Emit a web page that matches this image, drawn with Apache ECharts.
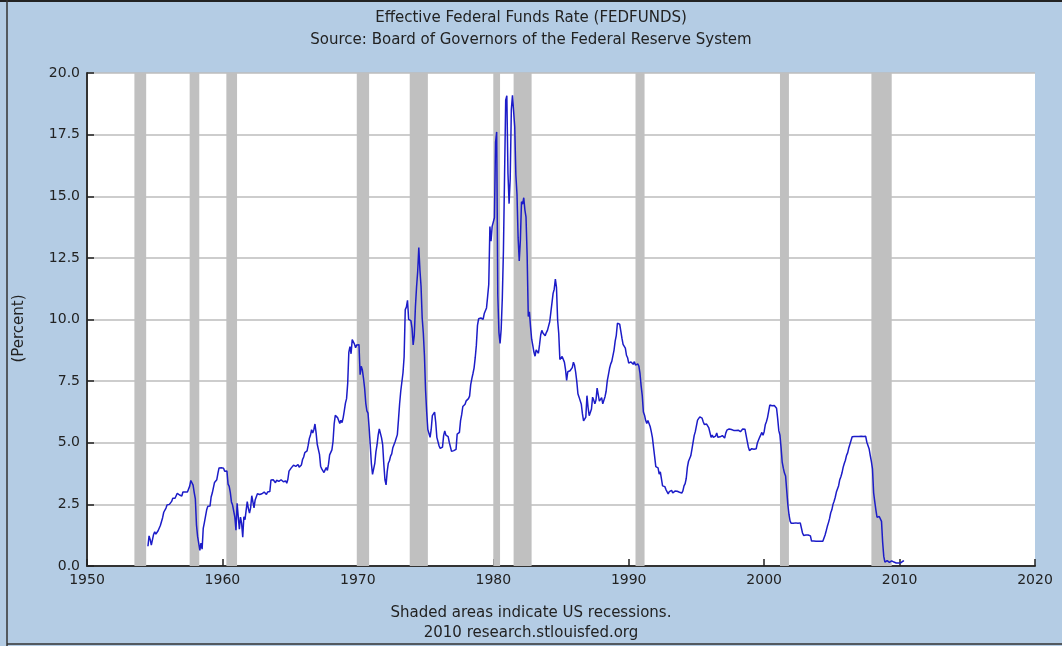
<!DOCTYPE html>
<html>
<head>
<meta charset="utf-8">
<script src="https://cdn.jsdelivr.net/npm/echarts@6/dist/echarts.min.js"></script>
<style>
html,body{margin:0;padding:0;background:#b4cce4;}
#chart{width:1062px;height:646px;}
</style>
</head>
<body>
<div id="chart"></div>
<script>
// Monthly effective federal funds rate (percent)
var rates1954 = [0.80,1.22,1.07,0.85,0.83,1.28]; // Jul-Dec 1954
var rates1955_1959 = [
1.39,1.29,1.35,1.43,1.43,1.64,1.68,1.96,2.18,2.24,2.35,2.48,
2.45,2.50,2.50,2.62,2.75,2.71,2.75,2.73,2.95,2.96,2.88,2.94,
2.84,3.00,2.96,3.00,3.00,3.00,2.99,3.24,3.47,3.50,3.28,2.98,
2.72,1.67,1.20,1.26,0.63,0.93,0.68,1.53,1.76,1.80,2.27,2.42,
2.48,2.43,2.80,2.96,2.90,3.39,3.47,3.50,3.76,3.98,4.00,3.99];
var rates1960s = [
3.99,3.97,3.84,3.92,3.85,3.32,3.23,2.98,2.60,2.47,2.44,1.98,
1.45,2.54,2.02,1.49,1.98,1.73,1.17,2.00,1.88,2.26,2.61,2.33,
2.15,2.37,2.85,2.78,2.36,2.68,2.71,2.93,2.90,2.90,2.94,2.93,
2.92,3.00,2.98,2.90,3.00,2.99,3.02,3.49,3.48,3.50,3.48,3.38,
3.48,3.48,3.43,3.47,3.50,3.50,3.42,3.50,3.45,3.36,3.52,3.85,
3.90,3.98,4.04,4.09,4.10,4.04,4.09,4.12,4.01,4.08,4.10,4.32,
4.42,4.60,4.65,4.67,4.90,5.17,5.30,5.53,5.40,5.53,5.76,5.40,
4.94,5.00,4.53,4.05,3.94,3.98,3.79,3.90,3.99,3.88,4.13,4.51,
4.61,4.71,5.05,5.76,6.11,6.07,6.02,6.03,5.78,5.91,5.82,6.02,
6.30,6.61,6.79,7.41,8.67,8.90,8.61,9.19,9.15,9.00,8.85,8.97];
var rates1970s = [
8.98,8.98,7.76,8.10,7.95,7.61,7.21,6.61,6.29,6.20,5.60,4.90,
4.14,3.72,3.71,4.16,4.63,4.91,5.31,5.56,5.55,5.20,4.91,4.14,
3.50,3.29,3.83,4.17,4.27,4.46,4.55,4.80,4.87,5.04,5.06,5.33,
5.94,6.58,7.09,7.12,7.84,8.49,10.40,10.50,10.78,10.01,10.03,9.95,
9.65,8.97,9.35,10.51,11.31,11.93,12.92,12.01,11.34,10.06,9.45,8.53,
7.13,6.24,5.54,5.49,5.22,5.55,6.10,6.14,6.24,5.82,5.22,5.20,
4.87,4.77,4.84,4.82,5.29,5.48,5.31,5.29,5.25,5.02,4.95,4.65,
4.61,4.68,4.69,4.73,5.35,5.39,5.42,5.90,6.14,6.47,6.51,6.56,
6.70,6.78,6.79,6.89,7.36,7.60,7.81,8.04,8.45,8.96,9.76,10.03,
10.07,10.06,10.09,10.01,10.24,10.29,10.47,10.94,11.43,13.77,13.18,13.78];
var rates1980s = [
13.82,14.13,17.19,17.61,10.98,9.47,9.03,9.61,10.87,12.81,15.85,18.90,
19.08,15.93,14.70,15.72,18.52,19.10,19.04,17.82,15.87,15.08,13.31,12.37,
13.22,14.78,14.68,14.94,14.45,14.15,12.59,10.12,10.31,9.71,9.20,8.95,
8.68,8.51,8.77,8.80,8.63,8.98,9.37,9.56,9.45,9.48,9.34,9.47,
9.56,9.59,9.91,10.29,10.32,11.06,11.23,11.64,11.30,9.99,9.43,8.38,
8.35,8.50,8.58,8.27,7.97,7.53,7.88,7.90,7.92,7.99,8.05,8.27,
8.14,7.86,7.48,6.99,6.85,6.92,6.56,6.17,5.89,5.85,6.04,6.91,
6.43,6.10,6.13,6.37,6.85,6.73,6.58,6.73,7.22,7.29,6.69,6.77,
6.83,6.58,6.58,6.87,7.09,7.51,7.75,8.01,8.19,8.30,8.35,8.76,
9.12,9.36,9.85,9.84,9.81,9.53,9.24,8.99,9.02,8.84,8.55,8.45];
var rates1990s = [
8.23,8.24,8.28,8.26,8.18,8.29,8.15,8.13,8.20,8.11,7.81,7.31,
6.91,6.25,6.12,5.91,5.78,5.90,5.82,5.66,5.45,5.21,4.81,4.43,
4.03,4.06,3.98,3.73,3.82,3.76,3.25,3.30,3.22,3.10,3.09,2.92,
3.02,3.03,3.07,2.96,3.00,3.04,3.06,3.03,3.09,2.99,3.02,2.96,
3.05,3.25,3.34,3.56,4.01,4.25,4.26,4.47,4.73,4.76,5.29,5.45,
5.53,5.92,5.98,6.05,6.01,6.00,5.85,5.74,5.80,5.76,5.80,5.60,
5.56,5.22,5.31,5.22,5.24,5.27,5.40,5.22,5.30,5.24,5.31,5.29,
5.25,5.19,5.39,5.51,5.50,5.56,5.52,5.54,5.54,5.50,5.52,5.50,
5.56,5.51,5.49,5.45,5.49,5.56,5.54,5.55,5.51,5.07,4.83,4.68,
4.63,4.76,4.81,4.74,4.74,4.76,4.99,5.07,5.22,5.20,5.42,5.30];
var rates2000s = [
5.45,5.73,5.85,6.02,6.27,6.53,6.54,6.50,6.52,6.51,6.51,6.40,
5.98,5.49,5.31,4.80,4.21,3.97,3.77,3.65,3.07,2.49,2.09,1.82,
1.73,1.74,1.73,1.75,1.75,1.75,1.73,1.74,1.75,1.75,1.34,1.24,
1.24,1.26,1.25,1.26,1.26,1.22,1.01,1.03,1.01,1.01,1.00,0.98,
1.00,1.01,1.00,1.00,1.00,1.03,1.26,1.43,1.61,1.76,1.93,2.16,
2.28,2.50,2.63,2.79,3.00,3.04,3.26,3.50,3.62,3.78,4.00,4.16,
4.29,4.49,4.59,4.79,4.94,4.99,5.24,5.25,5.25,5.25,5.25,5.24,
5.25,5.26,5.26,5.25,5.25,5.25,5.26,5.02,4.94,4.76,4.49,4.24,
3.94,2.98,2.61,2.28,1.98,2.00,2.01,2.00,1.81,0.97,0.39,0.16,
0.15,0.22,0.18,0.15,0.18,0.21,0.16,0.16,0.15,0.12,0.12,0.12];
var rates2010 = [0.11,0.13,0.16,0.20,0.20];

// US recessions [start, end] in decimal years
var recessions = [
[1953.50,1954.37],[1957.58,1958.29],[1960.29,1961.08],[1969.92,1970.83],
[1973.83,1975.17],[1980.00,1980.50],[1981.50,1982.83],[1990.50,1991.17],
[2001.17,2001.83],[2007.92,2009.42]];

var xTicks = [1950,1960,1970,1980,1990,2000,2010,2020];
var yTicks = [0,2.5,5,7.5,10,12.5,15,17.5,20];

function toPoints(startYear, startMonth, arr){
  return arr.map(function(v,i){
    var m = startMonth + i;
    return [startYear + m/12, v];
  });
}
var data = [].concat(
  toPoints(1954,6,rates1954),
  toPoints(1955,0,rates1955_1959),
  toPoints(1960,0,rates1960s),
  toPoints(1970,0,rates1970s),
  toPoints(1980,0,rates1980s),
  toPoints(1990,0,rates1990s),
  toPoints(2000,0,rates2000s),
  toPoints(2010,0,rates2010)
);

var chart = echarts.init(document.getElementById('chart'));
var font = 'DejaVu Sans';
var tStyle = {fontFamily:font,fontSize:15,fontWeight:'normal',color:'#222'};
chart.setOption({
  backgroundColor:'#b4cce4',
  animation:false,
  title:[
    {text:'Effective Federal Funds Rate (FEDFUNDS)', left:'center', top:6, textStyle:tStyle},
    {text:'Source: Board of Governors of the Federal Reserve System', left:'center', top:28, textStyle:tStyle},
    {text:'Shaded areas indicate US recessions.', left:'center', top:601, textStyle:tStyle},
    {text:'2010 research.stlouisfed.org', left:'center', top:621, textStyle:tStyle}
  ],
  grid:{left:87,right:27,top:73,bottom:80,show:true,backgroundColor:'#ffffff',borderWidth:0},
  xAxis:{
    type:'value', min:xTicks[0], max:xTicks[xTicks.length-1], interval:10,
    axisLine:{lineStyle:{color:'#333',width:2}},
    axisTick:{inside:true,length:7,lineStyle:{color:'#222',width:1.5}},
    axisLabel:{fontFamily:font,fontSize:14,color:'#222',margin:7,formatter:function(v){return String(v);}},
    splitLine:{show:false}
  },
  yAxis:{
    type:'value', min:yTicks[0], max:yTicks[yTicks.length-1], interval:2.5,
    name:'(Percent)', nameLocation:'middle', nameGap:60, nameRotate:90,
    nameTextStyle:{fontFamily:font,fontSize:15,color:'#222',padding:[0,18,0,0]},
    axisLine:{show:true,lineStyle:{color:'#333',width:2}},
    axisTick:{show:true,inside:true,length:7,lineStyle:{color:'#222',width:1.5}},
    axisLabel:{fontFamily:font,fontSize:14,color:'#222',margin:7,formatter:function(v){return v.toFixed(1);}},
    splitLine:{show:true,lineStyle:{color:'#bdbdbd',width:1.5}}
  },
  series:[{
    type:'line', data:data, showSymbol:false, symbol:'none',
    lineStyle:{color:'#1c1cc8',width:1.5},
    z:3,
    markArea:{silent:true, itemStyle:{color:'#c0c0c0',opacity:1},
      data:recessions.map(function(r){return [{xAxis:r[0]},{xAxis:r[1]}];})}
  }],
  graphic:[
    {type:'line',shape:{x1:0,y1:1,x2:1062,y2:1},style:{stroke:'#222',lineWidth:2},silent:true},
    {type:'line',shape:{x1:7,y1:0,x2:7,y2:646},style:{stroke:'#333',lineWidth:1.5},silent:true},
    {type:'line',shape:{x1:7,y1:644,x2:1062,y2:644},style:{stroke:'#333',lineWidth:1.5},silent:true}
  ]
});
</script>
</body>
</html>
